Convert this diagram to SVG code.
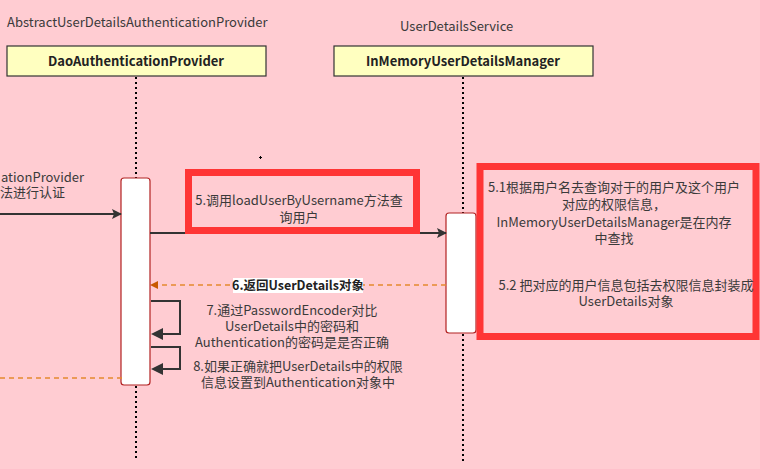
<svg xmlns="http://www.w3.org/2000/svg" width="760" height="469" viewBox="0 0 760 469">
<style>
text{font-family:"Noto Sans CJK SC","Noto Sans",sans-serif;font-size:13px;fill:#3a3a3a}
.hdr{font-weight:bold;fill:#222;text-anchor:middle}
.c{text-anchor:middle}
.life{stroke:#000;stroke-width:2;stroke-dasharray:2 3;fill:none}
.act{fill:#fff;stroke:#b22222;stroke-width:1.2}
.msg{stroke:#333;stroke-width:2;fill:none}
.ret{stroke:#e5892f;stroke-width:1.3;stroke-dasharray:5 4;fill:none}
.note{fill:#ffccd2;stroke:#ff3535;stroke-width:7}
</style>
<defs>
<marker id="ah" markerWidth="10" markerHeight="10" refX="9" refY="5" orient="auto" markerUnits="userSpaceOnUse">
<path d="M0,0 L10,5 L0,10 L2,5 Z" fill="#333"/>
</marker>
<marker id="ahr" markerWidth="8" markerHeight="8" refX="7" refY="4" orient="auto" markerUnits="userSpaceOnUse">
<path d="M0,0 L8,4 L0,8 Z" fill="#c85a00"/>
</marker>
</defs>
<rect width="760" height="469" fill="#ffccd2"/>
<text x="7" y="27">AbstractUserDetailsAuthenticationProvider</text>
<text x="400" y="31">UserDetailsService</text>
<g id="dao">
<rect x="7" y="46" width="259" height="30" fill="#ffffc0" stroke="#333" stroke-width="1.2"/>
<text class="hdr" x="136" y="66">DaoAuthenticationProvider</text>
</g>
<g id="inmem">
<rect x="334" y="46" width="259" height="30" fill="#ffffc0" stroke="#333" stroke-width="1.2"/>
<text class="hdr" x="463" y="66">InMemoryUserDetailsManager</text>
</g>
<g id="lifelines">
<line class="life" x1="136" y1="77" x2="136" y2="178"/>
<line class="life" x1="136" y1="386" x2="136" y2="461"/>
<line class="life" x1="463" y1="77" x2="463" y2="213"/>
<line class="life" x1="463" y1="334" x2="463" y2="461"/>
</g>
<g id="act-dao"><rect class="act" x="121" y="178" width="29" height="207" rx="3"/></g>
<g id="act-inmem"><rect class="act" x="446" y="213" width="30" height="120" rx="3"/></g>
<g id="connectors">
<line class="msg" x1="0" y1="214" x2="121" y2="214" marker-end="url(#ah)"/>
<line class="msg" x1="150" y1="233" x2="446" y2="233" marker-end="url(#ah)"/>
<line class="ret" x1="446" y1="285" x2="151" y2="285" marker-end="url(#ahr)"/>
<polyline class="msg" points="151,301 180,301 180,334 163,334"/>
<polyline class="msg" points="151,347 180,347 180,369 163,369"/>
<path d="M163,328 L151,334 L163,340 Z" fill="#333"/>
<path d="M163,363 L151,369 L163,375 Z" fill="#333"/>
<line class="ret" x1="0" y1="378" x2="125" y2="378"/>
</g>
<g id="left-label">
<text x="1" y="182">ationProvider</text>
<text x="0" y="197">法进行认证</text>
</g>
<g id="note5">
<rect class="note" x="188.5" y="172.5" width="228" height="58"/>
<text class="c" x="299" y="205">5.调用loadUserByUsername方法查</text>
<text class="c" x="299" y="222">询用户</text>
</g>
<rect x="259" y="157" width="3" height="1" fill="#000"/>
<rect x="260" y="156" width="1" height="3" fill="#000"/>
<g id="note51">
<rect class="note" x="480" y="166.5" width="276" height="170"/>
<text class="c" x="614" y="192">5.1根据用户名去查询对于的用户及这个用户</text>
<text class="c" x="614" y="209">对应的权限信息，</text>
<text class="c" x="614" y="227">InMemoryUserDetailsManager是在内存</text>
<text class="c" x="614" y="243">中查找</text>
<text class="c" x="626" y="290">5.2 把对应的用户信息包括去权限信息封装成</text>
<text class="c" x="626" y="306">UserDetails对象</text>
</g>
<g id="label6">
<rect x="233" y="278" width="130" height="15" fill="#fff"/>
<text x="298" y="290" class="c" style="font-weight:bold;font-size:12.5px;fill:#222">6.返回UserDetails对象</text>
</g>
<g id="label7">
<text class="c" x="292" y="315">7.通过PasswordEncoder对比</text>
<text class="c" x="292" y="331">UserDetails中的密码和</text>
<text class="c" x="292" y="347">Authentication的密码是是否正确</text>
</g>
<g id="label8">
<text class="c" x="298" y="371">8.如果正确就把UserDetails中的权限</text>
<text class="c" x="298" y="387">信息设置到Authentication对象中</text>
</g>
</svg>
